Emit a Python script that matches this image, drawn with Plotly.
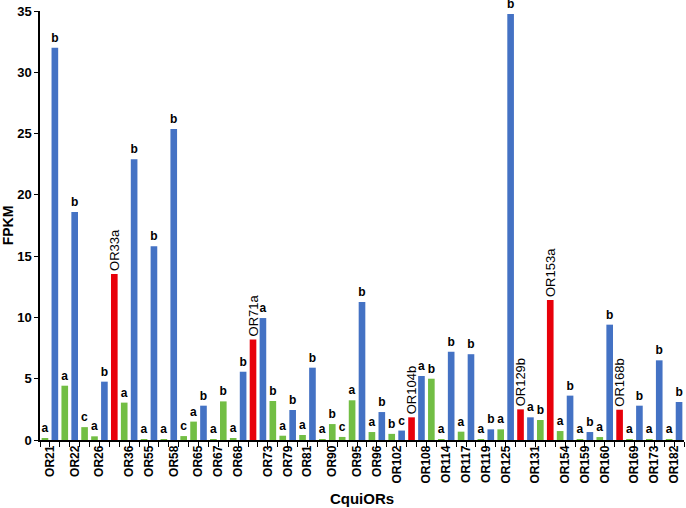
import plotly.graph_objects as go

# ---- data ----
# one entry per bar, in order
values = [0.14, 32.0, 4.43, 18.6, 1.05, 0.3, 4.76, 13.55, 3.05, 22.9,
          0.03, 15.8, 0.03, 25.37, 0.32, 1.5, 2.8, 0.03, 3.15, 0.15,
          5.57, 8.2, 9.95, 3.18, 0.35, 2.45, 0.41, 5.9, 0.03, 1.3,
          0.25, 3.24, 11.26, 0.65, 2.28, 0.5, 0.77, 1.85, 5.22, 5.0,
          0.03, 7.2, 0.68, 7.0, 0.03, 0.87, 0.87, 34.75, 2.5, 1.85,
          1.63, 11.42, 0.73, 3.62, 0.03, 0.65, 0.24, 9.41, 2.47, 0.03,
          2.8, 0.03, 6.5, 0.08, 3.1]
bar_text = ["a", "b", "a", "b", "c", "a", "b", "OR33a", "a", "b",
            "a", "b", "a", "b", "c", "a", "b", "a", "b", "a",
            "b", "OR71a", "a", "b", "a", "b", "a", "b", "a", "b",
            "c", "a", "b", "a", "b", "b", "c", "OR104b", "a", "b",
            "a", "b", "a", "b", "a", "b", "a", "b", "OR129b", "a",
            "b", "OR153a", "a", "b", "a", "b", "a", "b", "OR168b", "a",
            "b", "a", "b", "a", "b"]
bar_kind = ["G", "B", "G", "B", "G", "G", "B", "R", "G", "B",
            "G", "B", "G", "B", "G", "G", "B", "G", "G", "G",
            "B", "R", "B", "G", "G", "B", "G", "B", "G", "G",
            "G", "G", "B", "G", "B", "G", "B", "R", "B", "G",
            "G", "B", "G", "B", "G", "B", "G", "B", "R", "B",
            "G", "R", "G", "B", "G", "B", "G", "B", "R", "G",
            "B", "G", "B", "G", "B"]
# category groups along the axis (label, number of bars); "" = not labelled on axis
group_labels = ["OR21", "OR22", "OR26", "", "OR36", "OR55", "OR58", "OR65", "OR67", "OR68",
                "", "OR73", "OR79", "OR81", "OR90", "OR95", "OR96", "OR102", "", "OR108",
                "OR114", "OR117", "OR119", "OR125", "", "OR131", "", "OR154", "OR159", "OR160",
                "", "OR169", "OR173", "OR182"]
group_sizes = [2, 3, 2, 1, 2, 2, 3, 2, 2, 2,
               1, 2, 2, 2, 3, 2, 2, 2, 1, 2,
               2, 2, 2, 2, 1, 2, 1, 2, 2, 2,
               1, 2, 2, 2]

# ---- styling ----
COLORS = {"B": "#4472C4", "G": "#72BE44", "R": "#E8000A"}
FONT = "Arial, Liberation Sans, sans-serif"

xs = list(range(len(values)))

tickvals, ticktext = [], []
start = 0
for lab, n in zip(group_labels, group_sizes):
    if lab:
        tickvals.append(start + (n - 1) / 2)
        ticktext.append(lab)
    start += n

idx_norm = [i for i, k in enumerate(bar_kind) if k != "R"]
idx_red = [i for i, k in enumerate(bar_kind) if k == "R"]

fig = go.Figure()
fig.add_trace(go.Bar(
    x=[xs[i] for i in idx_norm], y=[values[i] for i in idx_norm],
    text=[bar_text[i] for i in idx_norm],
    marker=dict(color=[COLORS[bar_kind[i]] for i in idx_norm], line=dict(width=0)),
    width=0.67, textposition="outside", constraintext="none", cliponaxis=False,
    textfont=dict(family=FONT, size=12, color="black", weight="bold"),
    textangle=0, showlegend=False, hoverinfo="x+y"))
fig.add_trace(go.Bar(
    x=[xs[i] for i in idx_red], y=[values[i] for i in idx_red],
    text=[bar_text[i] for i in idx_red],
    marker=dict(color=[COLORS[bar_kind[i]] for i in idx_red], line=dict(width=0)),
    width=0.67, textposition="outside", constraintext="none", cliponaxis=False,
    textfont=dict(family=FONT, size=13, color="black"),
    textangle=-90, showlegend=False, hoverinfo="x+y"))

fig.update_layout(
    width=686, height=508, barmode="overlay",
    margin=dict(l=40, r=2, t=11, b=68, autoexpand=False),
    plot_bgcolor="white", paper_bgcolor="white",
    font=dict(family=FONT, color="black"),
    xaxis=dict(range=[-0.5, len(values) - 0.5], tickmode="array",
               tickvals=tickvals, ticktext=ticktext, tickangle=-90,
               ticks="", showgrid=False, zeroline=False, ticklabelstandoff=-1,
               showline=True, linecolor="black", linewidth=1.5,
               tickfont=dict(family=FONT, size=12, color="black", weight="bold"),
               minor=dict(tick0=0.5, dtick=1, ticks="outside", ticklen=5,
                          tickcolor="black", tickwidth=1, showgrid=False),
               title=dict(text="CquiORs", standoff=11,
                          font=dict(family=FONT, size=15, color="black", weight="bold"))),
    yaxis=dict(range=[0, 35], dtick=5, ticks="outside", ticklen=4,
               tickcolor="black", showgrid=False, zeroline=False,
               showline=True, linecolor="black", linewidth=1.5,
               tickfont=dict(family=FONT, size=13, color="black", weight="bold"),
               title=dict(text="FPKM", standoff=3,
                          font=dict(family=FONT, size=14, color="black", weight="bold"))),
)

fig.write_html("out.html", config={"displayModeBar": False},
               post_script="document.body.style.margin='0';")
